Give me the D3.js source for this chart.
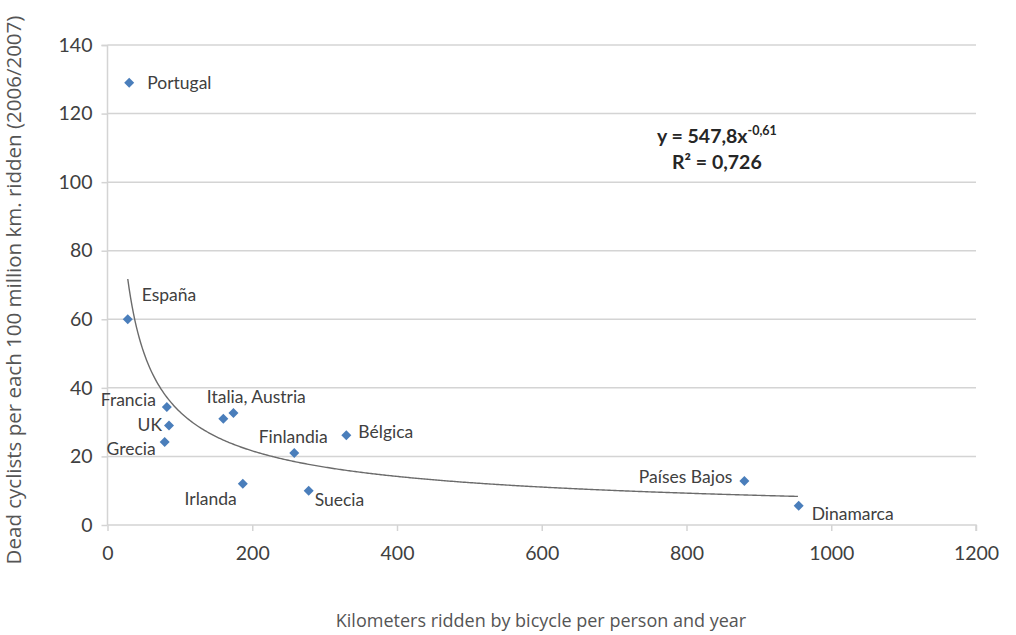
<!DOCTYPE html>
<html>
<head>
<meta charset="utf-8">
<script src="https://cdn.jsdelivr.net/npm/d3@7"></script>
<style>
  body { margin: 0; background: #fff; }
  svg { display: block; }
</style>
</head>
<body>
<div id="chart"></div>
<script>
    // data
    const countries = ["Portugal", "España", "Francia", "UK", "Grecia", "Italia", "Austria",
                       "Irlanda", "Finlandia", "Suecia", "Bélgica", "Países Bajos", "Dinamarca"];
    const kmRidden   = [30, 28, 82, 85, 79, 160, 174, 187, 258, 278, 330, 880, 955];
    const deadPer100 = [129, 60, 34.4, 29, 24.2, 31, 32.7, 12, 21, 10, 26.2, 12.8, 5.6];
    const xTicks = [0, 200, 400, 600, 800, 1000, 1200];
    const yTicks = [0, 20, 40, 60, 80, 100, 120, 140];
    // power trend line as printed on the chart
    const trendA = 547.8, trendB = -0.61;

    // label text + offset from its point (dx, dy, anchor)
    const labels = [
        { text: "Portugal",        i: 0,  dx: 18,  dy: 0,   anchor: "start" },
        { text: "España",          i: 1,  dx: 14,  dy: -24, anchor: "start" },
        { text: "Francia",         i: 2,  dx: -11, dy: -7,  anchor: "end" },
        { text: "UK",              i: 3,  dx: -7,  dy: -1,  anchor: "end" },
        { text: "Grecia",          i: 4,  dx: -9,  dy: 7,   anchor: "end" },
        { text: "Italia, Austria", i: 5,  dx: 33,  dy: -22, anchor: "middle" },
        { text: "Finlandia",       i: 8,  dx: -1,  dy: -16, anchor: "middle" },
        { text: "Bélgica",         i: 10, dx: 12,  dy: -3,  anchor: "start" },
        { text: "Irlanda",         i: 7,  dx: -6,  dy: 15,  anchor: "end" },
        { text: "Suecia",          i: 9,  dx: 6,   dy: 9,   anchor: "start" },
        { text: "Países Bajos",    i: 11, dx: -12, dy: -4,  anchor: "end" },
        { text: "Dinamarca",       i: 12, dx: 13,  dy: 8,   anchor: "start" }
    ];

    const W = 1016, H = 635;
    const margin = { top: 45, right: 40, bottom: 110, left: 107.5 };
    const width = W - margin.left - margin.right;
    const height = H - margin.top - margin.bottom;

    const root = d3.select("#chart").append("svg")
        .attr("width", W)
        .attr("height", H);
    const svg = root.append("g")
        .attr("transform", `translate(${margin.left},${margin.top})`);

    const x = d3.scaleLinear().domain([0, 1200]).range([0, width]);
    const y = d3.scaleLinear().domain([0, 140]).range([height, 0]);

    const gridColor = "#d4d4d4";
    const textColor = "#404040";
    const tickFont = "Lato, 'Open Sans', sans-serif";

    // horizontal grid lines
    svg.selectAll(".horizLine")
        .data(yTicks.filter(d => d !== 0))
        .enter()
        .append("line")
            .attr("class", "horizLine")
            .attr("x1", 0)
            .attr("x2", width)
            .attr("y1", d => y(d))
            .attr("y2", d => y(d))
            .style("stroke", gridColor)
            .style("stroke-width", 1.5);

    // x axis
    svg.append("g")
        .attr("transform", `translate(0,${height})`)
        .call(d3.axisBottom(x).tickValues(xTicks).tickSize(6).tickPadding(15).tickFormat(d3.format("d")))
        .call(g => g.select(".domain").attr("d", `M0.5,0H${width}V6`).style("stroke", gridColor).style("stroke-width", 1.5))
        .call(g => g.selectAll(".tick line").style("stroke", gridColor).style("stroke-width", 1.5))
        .call(g => g.selectAll("text").style("font-family", tickFont).style("font-size", "19.5px").style("fill", textColor));

    // y axis
    svg.append("g")
        .call(d3.axisLeft(y).tickValues(yTicks).tickSize(6).tickPadding(9))
        .call(g => g.select(".domain").attr("d", `M-6,0.5H0V${height}`).style("stroke", gridColor).style("stroke-width", 1.5))
        .call(g => g.selectAll(".tick line").style("stroke", gridColor).style("stroke-width", 1.5))
        .call(g => g.selectAll("text").style("font-family", tickFont).style("font-size", "19.5px").style("fill", textColor));

    // trend line
    const xs = d3.range(d3.min(kmRidden), d3.max(kmRidden) + 1, 2);
    svg.append("path")
        .datum(xs)
        .attr("d", d3.line().x(d => x(d)).y(d => y(trendA * Math.pow(d, trendB))))
        .style("fill", "none")
        .style("stroke", "#6b6b6b")
        .style("stroke-width", 1.4);

    // points
    svg.selectAll(".pt")
        .data(countries)
        .enter()
        .append("path")
            .attr("class", "pt")
            .attr("transform", (d, i) => `translate(${x(kmRidden[i])},${y(deadPer100[i])})`)
            .attr("d", "M0,-5L5,0L0,5L-5,0Z")
            .style("fill", "#4a7ebb");

    // point labels
    svg.selectAll(".lbl")
        .data(labels)
        .enter()
        .append("text")
            .attr("class", "lbl")
            .attr("x", d => x(kmRidden[d.i]) + d.dx)
            .attr("y", d => y(deadPer100[d.i]) + d.dy)
            .attr("dy", "0.35em")
            .attr("text-anchor", d => d.anchor)
            .style("font-family", tickFont)
            .style("font-size", "17.5px")
            .style("fill", textColor)
            .text(d => d.text);

    // equation
    const eq = svg.append("text")
        .attr("x", x(842))
        .attr("y", y(111.4))
        .attr("text-anchor", "middle")
        .style("font-family", tickFont)
        .style("font-weight", "bold")
        .style("font-size", "19.5px")
        .style("fill", "#262626");
    eq.append("tspan").text(`y = ${String(trendA).replace(".", ",")}x`);
    eq.append("tspan").attr("dy", -8).style("font-size", "12.5px").text(String(trendB).replace(".", ","));

    svg.append("text")
        .attr("x", x(842))
        .attr("y", y(103.8))
        .attr("text-anchor", "middle")
        .style("font-family", tickFont)
        .style("font-weight", "bold")
        .style("font-size", "19.5px")
        .style("fill", "#262626")
        .text("R² = 0,726");

    // axis titles
    root.append("text")
        .attr("transform", `translate(21,290) rotate(-90)`)
        .attr("text-anchor", "middle")
        .style("font-family", "'Open Sans', sans-serif")
        .style("font-size", "20.5px")
        .style("fill", "#555")
        .text("Dead cyclists per each 100 million km. ridden (2006/2007)");

    root.append("text")
        .attr("x", 541)
        .attr("y", 627)
        .attr("text-anchor", "middle")
        .style("font-family", "'Open Sans', sans-serif")
        .style("font-size", "18px")
        .style("fill", "#555")
        .text("Kilometers ridden by bicycle per person and year");
</script>
</body>
</html>
